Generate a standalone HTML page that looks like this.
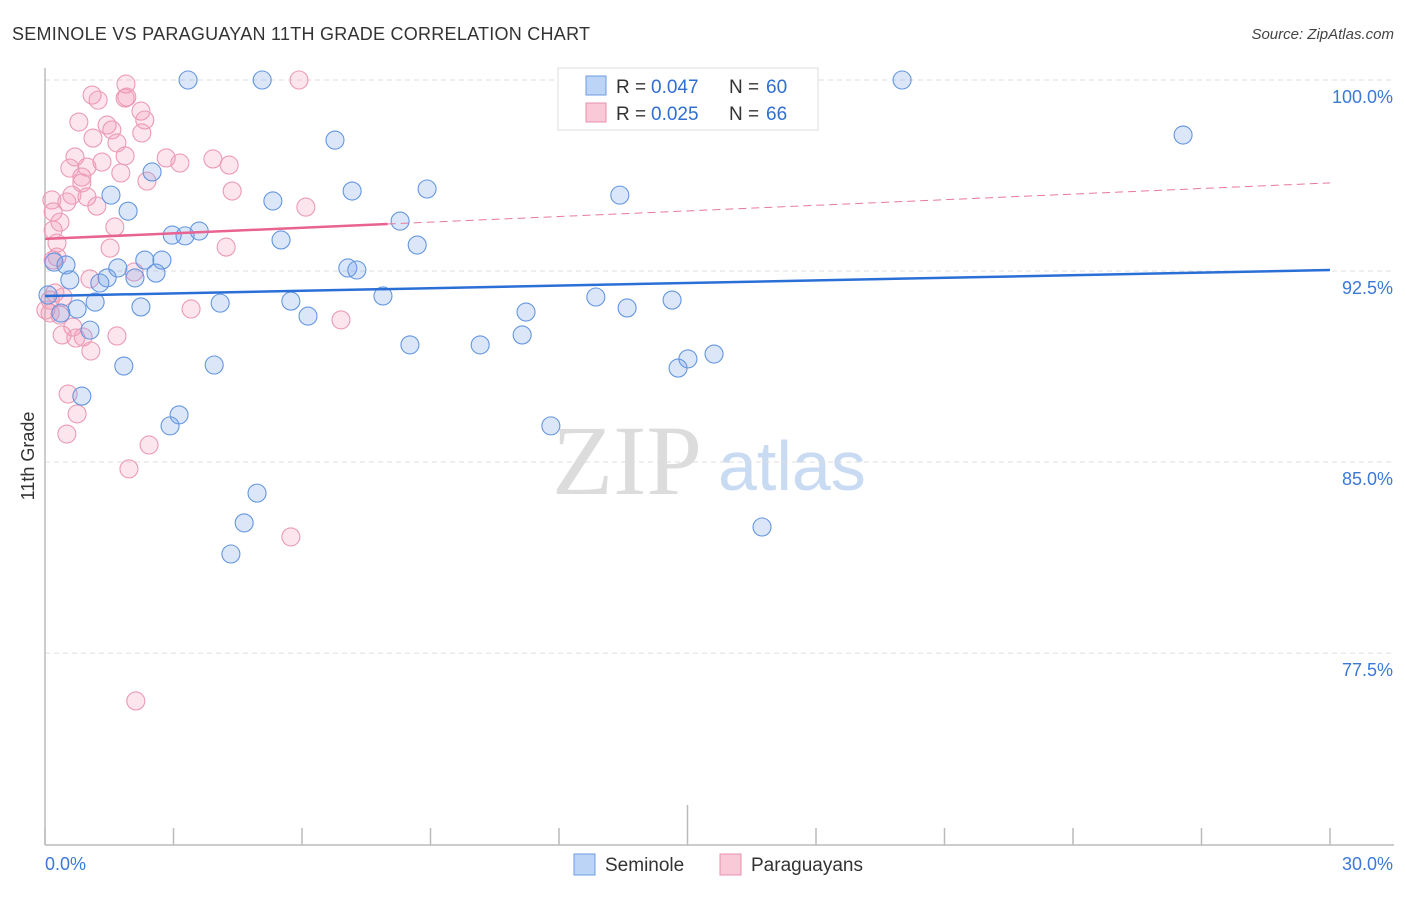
<!DOCTYPE html>
<html><head><meta charset="utf-8">
<style>
body{margin:0;background:#fff;font-family:"Liberation Sans",sans-serif;}
svg text{font-family:"Liberation Sans",sans-serif;}
</style></head>
<body>
<svg id="chart" width="1406" height="892" xmlns="http://www.w3.org/2000/svg">
<text x="12" y="40" font-size="18" fill="#333" textLength="578">SEMINOLE VS PARAGUAYAN 11TH GRADE CORRELATION CHART</text>
<text x="1394" y="39" font-size="15" fill="#444" text-anchor="end" font-style="italic">Source: ZipAtlas.com</text>
<text x="552" y="494" font-size="100" fill="#dcdcdc" style="font-family:'Liberation Serif',serif">ZIP</text>
<text x="718" y="490" font-size="70" fill="#c9dbf2">atlas</text>
<text transform="translate(34,456) rotate(-90)" font-size="18" fill="#333" text-anchor="middle">11th Grade</text>
<g id="grid"></g><g id="axes"></g><g id="pts"></g><g id="trend"></g>
<g>
<rect x="558" y="68" width="260" height="62" fill="#fff" stroke="#ddd"/>
<rect x="586" y="76" width="20" height="19" fill="#bcd4f5" stroke="#6b9be0"/>
<text x="616" y="93" font-size="19" fill="#333">R =</text>
<text x="651" y="93" font-size="19" fill="#2f6fd0">0.047</text>
<text x="729" y="93" font-size="19" fill="#333">N =</text>
<text x="766" y="93" font-size="19" fill="#2f6fd0">60</text>
<rect x="586" y="103" width="20" height="19" fill="#f9c9d7" stroke="#e891ac"/>
<text x="616" y="120" font-size="19" fill="#333">R =</text>
<text x="651" y="120" font-size="19" fill="#2f6fd0">0.025</text>
<text x="729" y="120" font-size="19" fill="#333">N =</text>
<text x="766" y="120" font-size="19" fill="#2f6fd0">66</text>
</g>
<g>
<rect x="574" y="854" width="21" height="21" fill="#bcd4f5" stroke="#6b9be0"/>
<text x="605" y="871" font-size="19" fill="#333">Seminole</text>
<rect x="720" y="854" width="21" height="21" fill="#f9c9d7" stroke="#e891ac"/>
<text x="751" y="871" font-size="19" fill="#333">Paraguayans</text>
</g>
</svg>
<script>
const yTicks=[100,92.5,85,77.5];
const yTickLabels=["100.0%","92.5%","85.0%","77.5%"];
const xLabels=["0.0%","30.0%"];
const blueX=[3.34,5.07,20.01,26.57,6.77,2.50,7.17,8.92,13.42,1.54,5.32,1.94,8.29,3.60,2.97,3.27,5.51,8.69,0.21,0.49,2.33,2.73,1.70,7.07,7.28,1.45,2.59,2.10,0.58,1.28,0.07,7.89,12.86,14.64,1.17,4.09,5.74,2.24,0.75,13.59,11.23,6.14,0.37,1.05,11.14,8.52,10.16,15.62,15.01,14.78,1.84,3.95,0.86,3.13,2.92,11.81,4.95,4.65,16.74,4.34];
const blueY=[100,100,100,97.84,97.64,96.39,95.64,95.72,95.48,95.48,95.25,94.85,94.46,94.07,93.91,93.88,93.72,93.52,92.85,92.74,92.93,92.93,92.62,92.62,92.54,92.23,92.42,92.23,92.15,92.03,91.56,91.52,91.48,91.36,91.28,91.24,91.32,91.09,91.01,91.05,90.89,90.73,90.85,90.18,89.99,89.60,89.60,89.24,89.05,88.69,88.77,88.81,87.59,86.85,86.42,86.42,83.78,82.61,82.45,81.39];
const pinkX=[5.93,1.89,1.10,1.24,1.87,1.91,2.24,2.33,0.79,1.45,1.56,2.26,1.12,1.68,1.87,0.70,1.33,0.58,0.98,1.77,2.38,0.86,0.86,2.83,3.15,3.92,4.30,4.37,0.98,0.63,0.16,1.21,6.09,0.51,0.19,0.35,1.63,0.19,0.28,1.52,4.23,0.19,0.28,2.08,1.05,0.23,0.42,0.12,0.12,3.41,6.91,0.65,0.40,0.72,0.89,1.68,1.07,0.54,0.75,0.51,2.43,1.96,5.74,2.12,0.35,0.02];
const pinkY=[100,99.84,99.41,99.21,99.29,99.33,98.78,98.43,98.35,98.23,98.04,97.92,97.72,97.53,97.02,96.98,96.78,96.54,96.58,96.35,96.03,96.19,95.96,96.94,96.74,96.90,96.66,95.64,95.41,95.48,95.29,95.05,95.01,95.21,94.82,94.42,94.23,94.11,93.60,93.40,93.44,92.93,93.05,92.46,92.19,91.64,91.48,91.36,90.85,91.01,90.58,90.30,89.99,89.87,89.91,89.95,89.36,87.67,86.89,86.10,85.67,84.73,82.06,75.62,90.77,90.97];
const blueTrend=[91.52,92.54];
const pinkTrend=[93.76,95.96];
const pinkSolidEnd=8;

const NS="http://www.w3.org/2000/svg";
const X0=45,X1=1330,Ytop=80;
function xs(v){return X0+(v/30)*(X1-X0);}
function ys(v){return Ytop+(100-v)*25.47;}
function mk(tag,attrs,parent){const e=document.createElementNS(NS,tag);for(const k in attrs)e.setAttribute(k,attrs[k]);parent.appendChild(e);return e;}
const grid=document.getElementById('grid'),axes=document.getElementById('axes'),pts=document.getElementById('pts'),tr=document.getElementById('trend');
yTicks.forEach((t,i)=>{
  const l=mk('line',{x1:X0,x2:1394,y1:ys(t),y2:ys(t),stroke:'#ddd','stroke-dasharray':'5,4'},grid);
  
  
  const tx=mk('text',{x:1393,y:ys(t)+23,'font-size':18,fill:'#3b78d8','text-anchor':'end'},grid);
  tx.textContent=yTickLabels[i];
  
  
});
let a=mk('line',{x1:X0,x2:X0,y1:68,y2:845,stroke:'#bbb','stroke-width':1.5},axes);


a=mk('line',{x1:X0,x2:1394,y1:845,y2:845,stroke:'#bbb','stroke-width':1.5},axes);


for(let i=0;i<=10;i++){
  const x=xs(i*3);
  const t=mk('line',{x1:x,x2:x,y1:i==5?805:828,y2:845,stroke:'#bbb','stroke-width':1.5},axes);
  
  
}
let xl=mk('text',{x:45,y:870,'font-size':18,fill:'#3b78d8'},axes);xl.textContent=xLabels[0];


xl=mk('text',{x:1393,y:870,'font-size':18,fill:'#3b78d8','text-anchor':'end'},axes);xl.textContent=xLabels[1];


function dots(X,Y,fill,stroke,name){
  X.forEach((v,i)=>{
    const c=mk('circle',{cx:xs(v),cy:ys(Y[i]),r:9,fill:fill,stroke:stroke,'stroke-width':1.1},pts);
    
    
  });
}
dots(pinkX,pinkY,'rgba(242,150,180,0.25)','#ec9ab6','paraguayan-point');
dots(blueX,blueY,'rgba(110,160,230,0.25)','#6496e0','seminole-point');
let l=mk('line',{x1:xs(0),y1:ys(blueTrend[0]),x2:xs(30),y2:ys(blueTrend[1]),stroke:'#2a6fd6','stroke-width':2.5},tr);


const pe=pinkTrend[0]+(pinkTrend[1]-pinkTrend[0])*pinkSolidEnd/30;
l=mk('line',{x1:xs(0),y1:ys(pinkTrend[0]),x2:xs(pinkSolidEnd),y2:ys(pe),stroke:'#e8638f','stroke-width':2.5},tr);


l=mk('line',{x1:xs(pinkSolidEnd),y1:ys(pe),x2:xs(30),y2:ys(pinkTrend[1]),stroke:'#e8789c','stroke-width':1,'stroke-dasharray':'8,5'},tr);


</script>
</body></html>
